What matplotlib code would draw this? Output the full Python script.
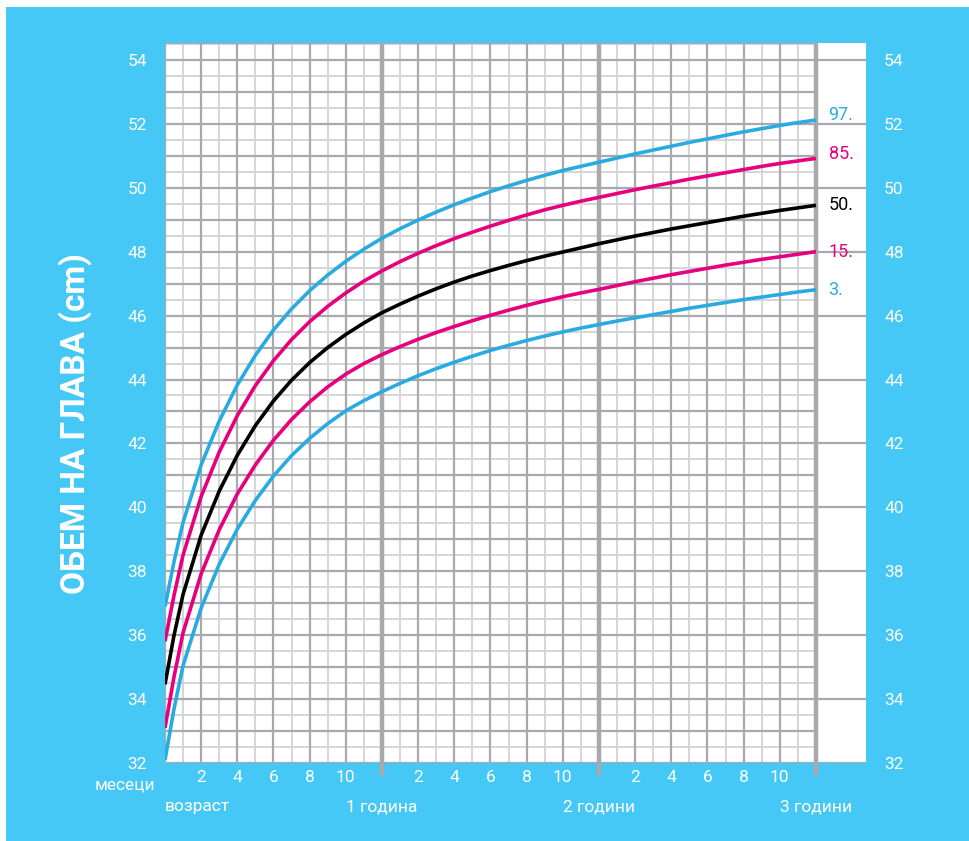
import matplotlib.pyplot as plt
import matplotlib.patches as mpatches
import numpy as np

plt.rcParams['font.family'] = ['Roboto', 'DejaVu Sans']

# age in months
months = [0, 0.5] + list(range(1, 37))

p3 = [32.10, 33.70, 35.05, 36.85, 38.22, 39.32, 40.22, 40.98, 41.62, 42.16, 42.62, 43.02,
      43.34, 43.62, 43.88, 44.12, 44.34, 44.54, 44.73, 44.91, 45.07, 45.22, 45.36, 45.49,
      45.61, 45.72, 45.83, 45.93, 46.03, 46.13, 46.23, 46.32, 46.41, 46.50, 46.58, 46.66,
      46.74, 46.81]
p15 = [33.10, 34.70, 36.08, 37.92, 39.30, 40.42, 41.33, 42.10, 42.75, 43.30, 43.77, 44.17,
       44.50, 44.78, 45.03, 45.26, 45.47, 45.66, 45.84, 46.01, 46.17, 46.32, 46.46, 46.59,
       46.71, 46.82, 46.94, 47.06, 47.17, 47.28, 47.38, 47.48, 47.58, 47.67, 47.76, 47.84,
       47.92, 48.00]
p50 = [34.46, 36.00, 37.28, 39.13, 40.51, 41.63, 42.56, 43.33, 43.98, 44.53, 45.00, 45.41,
       45.77, 46.09, 46.36, 46.61, 46.84, 47.05, 47.24, 47.41, 47.57, 47.72, 47.86, 47.99,
       48.12, 48.25, 48.37, 48.49, 48.60, 48.71, 48.81, 48.91, 49.01, 49.11, 49.20, 49.29,
       49.37, 49.45]
p85 = [35.81, 37.25, 38.51, 40.34, 41.73, 42.87, 43.81, 44.59, 45.25, 45.81, 46.29, 46.71,
       47.08, 47.40, 47.69, 47.95, 48.19, 48.41, 48.61, 48.80, 48.98, 49.15, 49.31, 49.45,
       49.58, 49.70, 49.82, 49.94, 50.05, 50.16, 50.27, 50.37, 50.47, 50.57, 50.67, 50.76,
       50.84, 50.92]
p97 = [36.90, 38.30, 39.53, 41.33, 42.70, 43.83, 44.76, 45.55, 46.21, 46.78, 47.27, 47.70,
       48.08, 48.42, 48.72, 48.99, 49.24, 49.47, 49.68, 49.88, 50.06, 50.23, 50.39, 50.54,
       50.67, 50.80, 50.93, 51.06, 51.18, 51.30, 51.42, 51.53, 51.64, 51.75, 51.85, 51.95,
       52.04, 52.12]

curve_labels = ['3.', '15.', '50.', '85.', '97.']
y_ticks = list(range(32, 55, 2))
month_tick_labels = ['2', '4', '6', '8', '10']
year_labels = ['возраст', '1 година', '2 години', '3 години']

BG = '#45c8f6'
BLUE = '#29abe2'
PINK = '#e6007e'
DARK = '#a7a9ac'
LIGHT = '#d4d5d7'

fig = plt.figure(figsize=(9.69, 8.41), dpi=100, facecolor='white')
fig.patches.append(mpatches.Rectangle((6 / 969, 0), 1, 834 / 841, transform=fig.transFigure,
                                      facecolor=BG, edgecolor='none', zorder=-5))

ax = fig.add_axes([165 / 969, 78 / 841, 701 / 969, 720 / 841])
ax.set_facecolor('white')
xmax = 38.77
ytop = 54.53
ax.set_xlim(0, xmax)
ax.set_ylim(32, ytop)
for s in ax.spines.values():
    s.set_visible(False)

# grid
for m in range(1, 37, 2):
    ax.vlines(m, 32, ytop, color=LIGHT, lw=1.4, zorder=1)
for m in range(0, 37, 2):
    if m % 12 == 0 and m > 0:
        continue
    ax.vlines(m, 32, ytop, color=DARK, lw=1.6, zorder=2)
for h in np.arange(32.5, 54.6, 1.0):
    ax.hlines(h, 0, 36, color=LIGHT, lw=1.4, zorder=1)
for h in range(32, 55):
    if h % 2 == 0:
        ax.hlines(h, 0, xmax, color=DARK, lw=1.6, zorder=2)
    else:
        ax.hlines(h, 0, 36, color=DARK, lw=1.6, zorder=2)
ax.hlines(ytop, 0, 36, color=DARK, lw=1.4, zorder=2)
ax.vlines([12, 24, 36], 32 - 13 / 31.95, ytop, color=DARK, lw=3.2, zorder=3, clip_on=False)

# curves
series = [p3, p15, p50, p85, p97]
colors = [BLUE, PINK, 'black', PINK, BLUE]
for vals, c, lab in zip(series, colors, curve_labels):
    ax.plot(months, vals, color=c, lw=2.6, zorder=5, solid_capstyle='butt',
            solid_joinstyle='round')
    ax.text(36.7, vals[-1] + (0.15 if lab in ('97.', '85.') else 0), lab, color=c,
            fontsize=13, va='center', ha='left', zorder=6)

# y ticks both sides
ax.set_yticks(y_ticks)
ax.set_yticklabels([str(v) for v in y_ticks])
ax.tick_params(axis='y', length=0, labelsize=12.5, labelcolor='white',
               labelleft=True, labelright=True, pad=13)

# month ticks
xt = [m for m in range(37) if m % 2 == 0 and m % 12 != 0]
ax.set_xticks(xt)
ax.set_xticklabels([month_tick_labels[(m % 12) // 2 - 1] for m in xt])
ax.tick_params(axis='x', length=0, labelsize=12.5, labelcolor='white', pad=5)

tr = ax.get_xaxis_transform()
ax.text(-2.2, -0.031, 'месеци', transform=tr, color='white', fontsize=12.5,
        ha='center', va='center')
for x, lab in zip([1.8, 12, 24, 36], year_labels):
    ax.text(x, -0.061, lab, transform=tr, color='white', fontsize=12.5,
            ha='center', va='center')

fig.text(75 / 969, 1 - 424 / 841, 'ОБЕМ НА ГЛАВА (cm)', rotation=90, color='white',
         fontsize=24, fontweight='bold', ha='center', va='center')

fig.savefig('out.png', dpi=100, facecolor=fig.get_facecolor())
